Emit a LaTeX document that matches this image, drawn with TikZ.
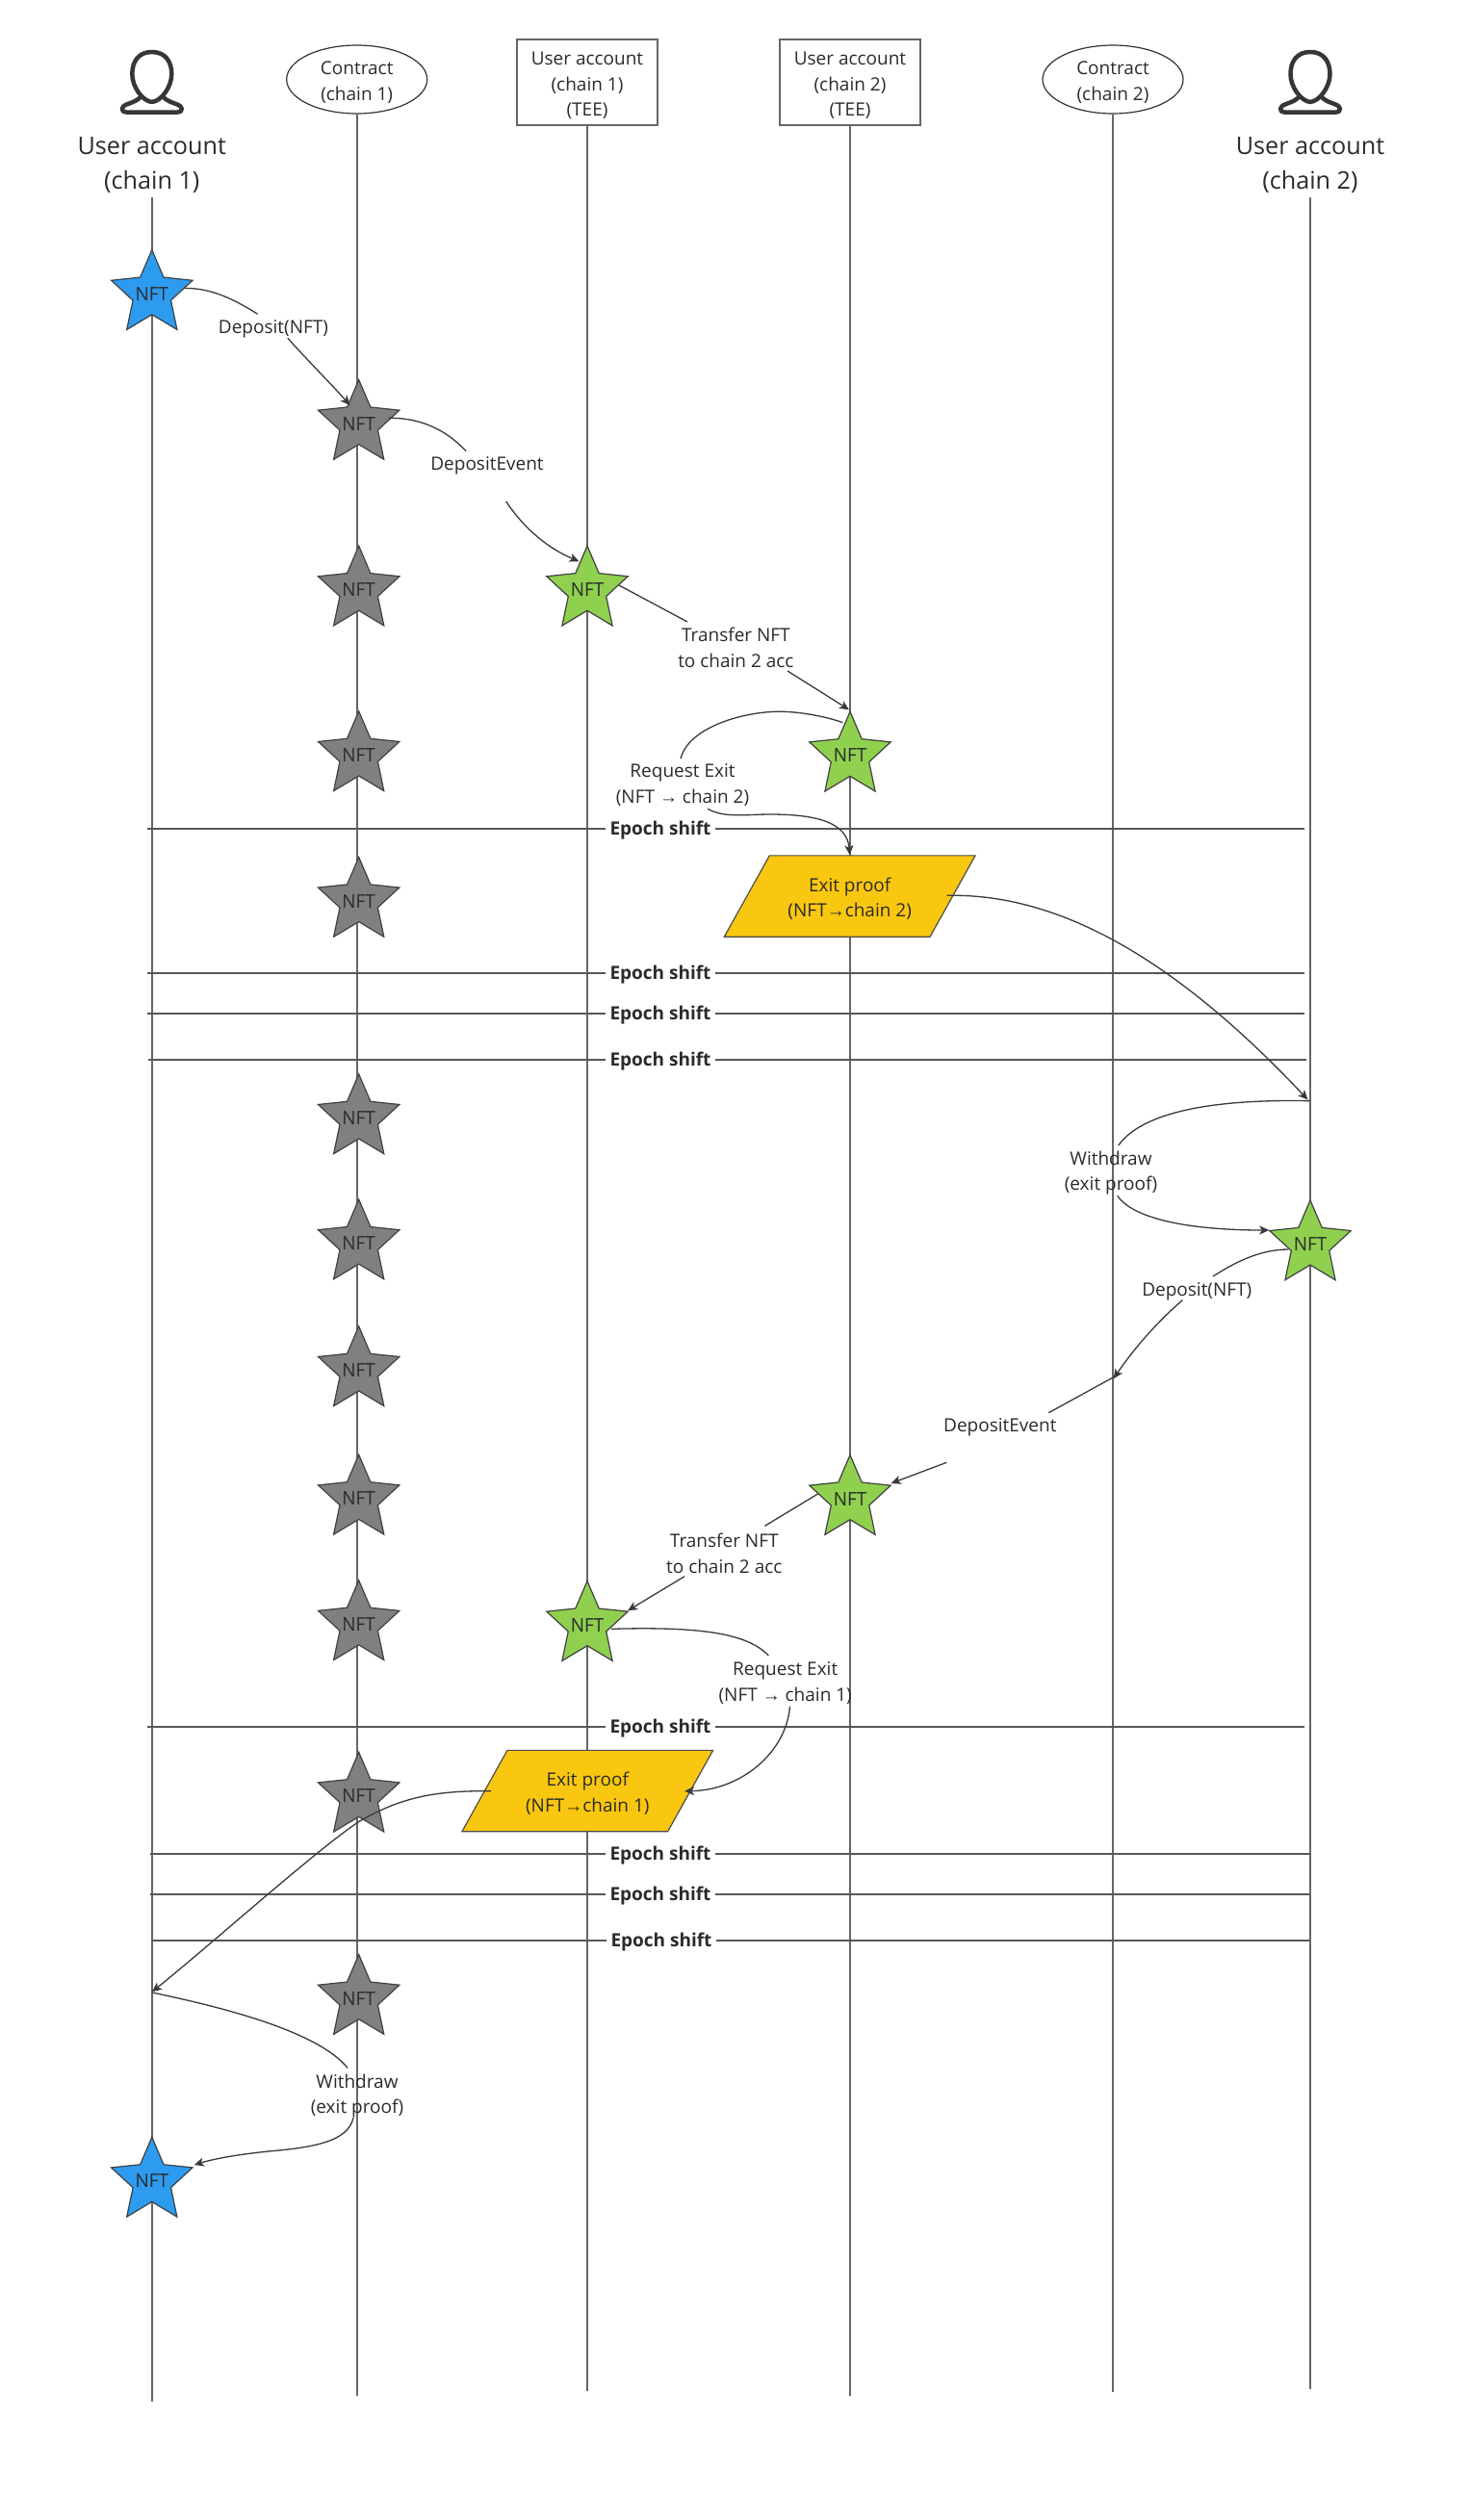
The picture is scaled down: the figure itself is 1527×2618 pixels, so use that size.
\documentclass[tikz,border=0pt]{standalone}
\usepackage{fontspec}
\setmainfont{Open Sans}
\newfontfamily\arrowfont{Liberation Sans}
\usetikzlibrary{shapes.geometric,arrows.meta}
\definecolor{inkc}{HTML}{2B2B2B}
\definecolor{linec}{HTML}{666666}
\definecolor{connc}{HTML}{3A3A3A}
\definecolor{bluec}{HTML}{2D9BF0}
\definecolor{greenc}{HTML}{8FD14F}
\definecolor{grayc}{HTML}{808080}
\definecolor{yellowc}{HTML}{FAC710}
\newcommand{\nft}{\makebox[0pt]{NFT}}
\newcommand{\toarrow}{{\arrowfont →}}
\tikzset{
  lifeline/.style={draw=linec,line width=2pt},
  hline/.style={draw=linec!85!black,line width=2pt},
  conn/.style={draw=connc,line width=1.3pt},
  flowarrow/.style={conn,-{Stealth[length=10pt,width=9pt,inset=2.5pt]}},
  nftstar/.style={star,star points=5,star point ratio=2.14,minimum size=91.5pt,inner sep=0pt,xscale=.97,transform shape,draw=black!75,line width=1.2pt,text=inkc,font=\fontsize{19.5}{24}\selectfont},
  bluestar/.style={nftstar,fill=bluec},
  greenstar/.style={nftstar,fill=greenc},
  graystar/.style={nftstar,fill=grayc},
  headtext/.style={align=center,text=inkc,font=\fontsize{19}{26.2}\selectfont},
  contract/.style={headtext,ellipse,draw=black!80,line width=1.2pt,fill=white,minimum width=146pt,minimum height=71pt,inner sep=0pt},
  teebox/.style={headtext,rectangle,draw=linec,line width=2pt,fill=white,minimum width=146pt,minimum height=89pt,inner sep=0pt},
  bigtext/.style={align=center,text=inkc,font=\fontsize{25.2}{35.6}\selectfont},
  flowlabel/.style={align=center,text=inkc,inner sep=0pt,font=\fontsize{19}{26.8}\selectfont},
  epochlabel/.style={text=inkc,inner sep=0pt,fill=white,minimum width=114pt,minimum height=22pt,font=\fontsize{19}{24}\selectfont\bfseries},
  proof/.style={flowlabel,trapezium,trapezium left angle=54,trapezium right angle=126,trapezium stretches=true,minimum width=261pt,minimum height=84.3pt,fill=yellowc,draw=black!70,line width=1.2pt},
  pics/personicon/.style={code={
    \draw[draw=inkc!95,line width=4.5pt,line join=round]
      (0,54) .. controls (14,54) and (20.5,64) .. (20.5,77) .. controls (20.5,90) and (10,105) .. (0,106)
      .. controls (-10,105) and (-20.5,90) .. (-20.5,77) .. controls (-20.5,64) and (-14,54) .. (0,54) -- cycle;
    \draw[draw=inkc!95,line width=4.5pt,line join=round,line cap=round]
      (-13,102) .. controls (-20,108) and (-31,108) .. (-31,113) .. controls (-31,116) and (-29,116.5) .. (-27,116.5)
      -- (27,116.5) .. controls (29,116.5) and (31,116) .. (31,113) .. controls (31,108) and (20,108) .. (13,102);
  }}
}
\newcommand{\epochline}[5]{%
  \node[epochlabel] (#1) at (#4,#5) {\rule{0pt}{18pt}Epoch shift};
  \coordinate (#1l) at (#2,#5);
  \coordinate (#1r) at (#3,#5);
  \draw[hline] (#1l) -- (#1.west);
  \draw[hline] (#1.east) -- (#1r);
}
\begin{document}
\begin{tikzpicture}[x=1pt,y=-1pt]
\useasboundingbox[fill=white] (0,0) rectangle (1527,2618);

% heads
\pic at (157.8,0) {personicon};
\pic at (1361,0) {personicon};
\node[bigtext] (u1) at (157.8,171.5) {User account\\(chain 1)};
\node[bigtext] (u2) at (1361,171.5) {User account\\(chain 2)};
\node[contract] (c1) at (370.7,82.5) {\rule{0pt}{20pt}Contract\\(chain 1)};
\node[contract] (c2) at (1156,82.5) {\rule{0pt}{20pt}Contract\\(chain 2)};
\node[teebox] (t1) at (610,85.6) {\rule{0pt}{20pt}User account\\(chain 1)\\(TEE)};
\node[teebox] (t2) at (883,85.6) {\rule{0pt}{20pt}User account\\(chain 2)\\(TEE)};

% lifelines
\coordinate (u1top) at (157.8,204.5);
\coordinate (u2top) at (1361,204.5);
\coordinate (u1end) at (157.8,2495);
\coordinate (c1end) at (370.7,2489);
\coordinate (t1end) at (610,2484);
\coordinate (t2end) at (883,2489);
\coordinate (c2end) at (1156,2485);
\coordinate (u2end) at (1361,2482);
\draw[lifeline] (u1top) -- (u1end);
\draw[lifeline] (c1.south) -- (c1end);
\draw[lifeline] (t1.south) -- (t1end);
\draw[lifeline] (t2.south) -- (t2end);
\draw[lifeline] (c2.south) -- (c2end);
\draw[lifeline] (u2top) -- (u2end);

% epoch shifts
\epochline{e1}{153}{1355}{686}{861}
\epochline{e2}{153}{1355}{686}{1011}
\epochline{e3}{153}{1355}{686}{1053}
\epochline{e4}{154}{1356.5}{686}{1101}
\epochline{e5}{153}{1355}{686}{1793.7}
\epochline{e6}{156}{1361}{686}{1926}
\epochline{e7}{156}{1361}{686}{1968}
\epochline{e8}{157.8}{1361}{687}{2016}

% stars
\node[bluestar] (b1) at (157.8,305.4) {\nft};
\node[bluestar] (b2) at (157.8,2266) {\nft};
\node[graystar] (g1) at (372.7,440.3) {\nft};
\node[graystar] (g2) at (372.7,612.9) {\nft};
\node[graystar] (g3) at (372.7,784.6) {\nft};
\node[graystar] (g4) at (372.7,936.2) {\nft};
\node[graystar] (g5) at (372.7,1161.6) {\nft};
\node[graystar] (g6) at (372.7,1291.8) {\nft};
\node[graystar] (g7) at (372.7,1423.6) {\nft};
\node[graystar] (g8) at (372.7,1557) {\nft};
\node[graystar] (g9) at (372.7,1687.5) {\nft};
\node[graystar] (g10) at (372.7,1866) {\nft};
\node[graystar] (g11) at (372.7,2076.3) {\nft};
\node[greenstar] (s1) at (610,612.9) {\nft};
\node[greenstar] (s2) at (883,785) {\nft};
\node[greenstar] (s3) at (1361,1292.7) {\nft};
\node[greenstar] (s4) at (883,1557.3) {\nft};
\node[greenstar] (s5) at (610,1688.3) {\nft};

% proofs
\node[proof] (p1) at (882.7,931) {\rule{0pt}{20pt}Exit proof\\(NFT\toarrow chain 2)};
\node[proof] (p2) at (610.3,1860.5) {\rule{0pt}{20pt}Exit proof\\(NFT\toarrow chain 1)};

% labels
\node[flowlabel] (l1) at (284,342) {Deposit(NFT)};
\node[flowlabel] (l2) at (506,483.5) {DepositEvent};
\node[flowlabel] (l3) at (764.4,673) {Transfer NFT\\to chain 2 acc};
\node[flowlabel] (l4) at (709,815.5) {Request Exit\\(NFT \toarrow{} chain 2)};
\node[flowlabel] (l5) at (1154,1218.5) {Withdraw\\(exit proof)};
\node[flowlabel] (l6) at (1243.3,1341.3) {Deposit(NFT)};
\node[flowlabel] (l7) at (1038.8,1482.5) {DepositEvent};
\node[flowlabel] (l8) at (752.3,1613.5) {Transfer NFT\\to chain 2 acc};
\node[flowlabel] (l9) at (815.7,1748.3) {Request Exit\\(NFT \toarrow{} chain 1)};
\node[flowlabel] (l10) at (371,2177.5) {Withdraw\\(exit proof)};

% connector points on the lifelines
\coordinate (w1) at (1361,1143.7);
\coordinate (w2) at (158,2070);
\coordinate (k1) at (1358.5,1142.5);
\coordinate (k2) at (158,2069.3);
\coordinate (k3) at (1156.7,1432.3);
\coordinate (k4) at (1156.7,1430.7);

% connectors
\draw[conn] ([shift={(33.9,-6)}]b1.center) .. controls (220,299) and (245,312) .. ([shift={(-16.4,-15.7)}]l1.center);
\draw[flowarrow] ([shift={(14.8,9.2)}]l1.center) .. controls (320,375) and (345,400) .. ([shift={(-9.1,-19.3)}]g1.center);

\draw[conn] ([shift={(31.1,-6.1)}]g1.center) .. controls (435,434) and (462,445) .. ([shift={(-22,-14.9)}]l2.center);
\draw[flowarrow] ([shift={(19.6,37.3)}]l2.center) .. controls (545,550) and (570,570) .. ([shift={(-8.5,-29.7)}]s1.center);

\draw[conn] ([shift={(32.6,-5.1)}]s1.center) -- ([shift={(-50.4,-27)}]l3.center);
\draw[flowarrow] ([shift={(53.6,24)}]l3.center) -- ([shift={(-1,-47.7)}]s2.center);

\draw[conn] ([shift={(-7.5,-34.3)}]s2.center) .. controls (860,745) and (835,740) .. (814,739.3)
  .. controls (775,738) and (715,755) .. ([shift={(-2,-27.2)}]l4.center);
\draw[flowarrow] ([shift={(26.2,24.8)}]l4.center) .. controls (752,850) and (775,846) .. (800,846)
  .. controls (850,846) and (880,855) .. (p1.north);

\draw[flowarrow] ([shift={(101,-0.7)}]p1.center) .. controls (1095,928) and (1215,990) .. (k1);

\draw[conn] (w1) .. controls (1280,1142) and (1190,1150) .. ([shift={(7.7,-28.5)}]l5.center);
\draw[flowarrow] ([shift={(6.7,23.8)}]l5.center) .. controls (1180,1270) and (1250,1278) .. ([shift={(-42.7,-14.7)}]s3.center);

\draw[conn] ([shift={(-22.7,5.3)}]s3.center) .. controls (1310,1298) and (1285,1310) .. ([shift={(16.7,-15.3)}]l6.center);
\draw[flowarrow] ([shift={(-15,9.4)}]l6.center) .. controls (1200,1375) and (1175,1405) .. (k3);

\draw[conn] (k4) -- ([shift={(50.5,-14.8)}]l7.center);
\draw[flowarrow] ([shift={(-55.5,36.8)}]l7.center) -- ([shift={(42.7,-16.3)}]s4.center);

\draw[conn] ([shift={(-33,-5.6)}]s4.center) -- ([shift={(42.1,-28.2)}]l8.center);
\draw[flowarrow] ([shift={(-41.3,24.2)}]l8.center) -- ([shift={(42,-15)}]s5.center);

\draw[conn] ([shift={(24.8,4)}]s5.center) .. controls (720,1690) and (775,1695) .. ([shift={(-17.4,-28.3)}]l9.center);
\draw[flowarrow] ([shift={(4.8,24.4)}]l9.center) .. controls (817,1820) and (770,1860) .. ([shift={(100.7,0.2)}]p2.center);

\draw[flowarrow] ([shift={(-100.5,0.2)}]p2.center) .. controls (450,1860) and (415,1868) .. ([shift={(-0.4,26.7)}]g10.center)
  .. controls (325,1925) and (225,2015) .. (k2);

\draw[conn] (w2) .. controls (230,2085) and (330,2110) .. ([shift={(-10,-29.2)}]l10.center);
\draw[flowarrow] ([shift={(-4,22.5)}]l10.center) .. controls (362,2225) and (325,2231) .. (278.6,2235)
  .. controls (250,2238) and (225,2242) .. ([shift={(44,-17)}]b2.center);
\end{tikzpicture}
\end{document}
